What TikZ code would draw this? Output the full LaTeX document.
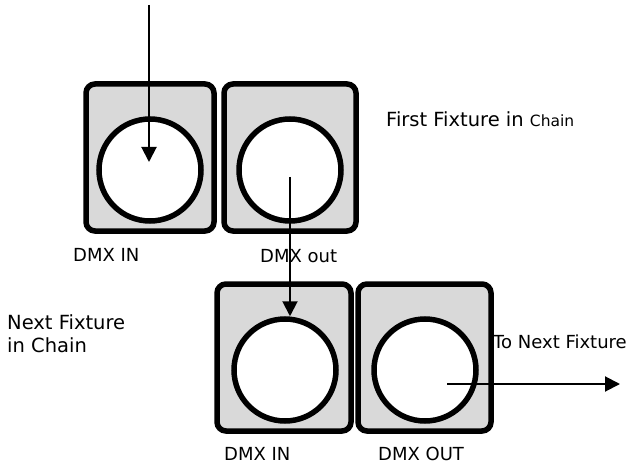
\documentclass[tikz,border=0pt]{standalone}
\usepackage{fontspec}
\setmainfont{DejaVu Sans}
\usetikzlibrary{positioning, arrows.meta}
\definecolor{panel}{HTML}{d9d9d9}
\tikzstyle{box} = [rectangle, rounded corners=9pt, minimum width=128pt, minimum height=147pt, line width=5.5pt, draw=black, fill=panel]
\tikzstyle{port} = [circle, minimum size=102pt, inner sep=0pt, line width=5.5pt, draw=black, fill=white]
\tikzstyle{label} = [anchor=base west, inner sep=0pt, font=\fontsize{18}{20}\selectfont]
\tikzstyle{note} = [label, font=\fontsize{19.5}{23}\selectfont]
\tikzstyle{arrow} = [line width=2pt, -{Triangle[length=15pt,width=15pt]}]

\begin{document}
\begin{tikzpicture}[x=1pt, y=-1pt]
    \useasboundingbox (0,0) rectangle (626,465);
    % first fixture
    \node (box1) [box] at (150,157.5) {};
    \node (box2) [box, minimum width=132pt] at (290,157.5) {};
    \node (port1) [port] at (150,170) {};
    \node (port2) [port] at (290,170) {};
    % next fixture
    \node (box3) [box, minimum width=134pt] at (284,357.5) {};
    \node (box4) [box, minimum width=133pt] at (424.5,357.5) {};
    \node (port3) [port] at (285,370) {};
    \node (port4) [port] at (425,370) {};

    \node (in1) [label] at (73,261) {DMX IN};
    \node (out1) [label] at (260,262) {DMX out};
    \node (in2) [label] at (224,460) {DMX IN};
    \node (out2) [label] at (378,460) {DMX OUT};
    \node (first) [note] at (386,127) {First Fixture in {\fontsize{15.5}{16}\selectfont Chain}};
    \node (next) [note, align=left] at (7,352) {Next Fixture\\in Chain};
    \node (tonext) [note, font=\fontsize{18}{20}\selectfont] at (493,348) {To Next Fixture};

    \coordinate (feed) at (149,5);
    \coordinate (away) at (620,384);
    \draw[arrow] (feed)--([xshift=-1pt,yshift=8pt]port1.center);
    \draw[arrow] ([yshift=-7pt]port2.center)--(port2.center |- port3.north);
    \draw[arrow] ([shift={(22pt,-14pt)}]port4.center)--(away);
\end{tikzpicture}
\end{document}
